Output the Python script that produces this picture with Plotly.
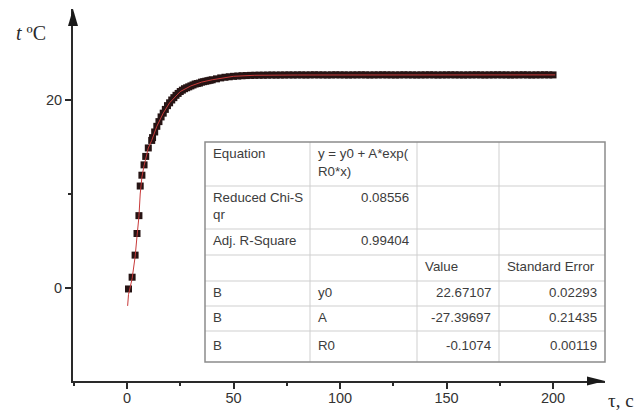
import plotly.graph_objects as go

# ---- data ----
time_s = [0.7, 2.4, 3.8, 4.7, 5.6, 6.2, 7.0, 8.0, 8.8, 10.0, 11.6,
          12, 13, 14, 15, 16, 17, 18, 19, 20, 21,
          22, 23, 24, 25, 26, 27, 28, 29, 30, 31,
          32, 33, 34, 35, 36, 37, 38, 39, 40,
          42, 44, 46, 48, 50, 52, 54, 56, 58, 60,
          62, 64, 66, 68, 70, 72, 74, 76, 78, 80,
          82, 84, 86, 88, 90, 92, 94, 96, 98, 100,
          102, 104, 106, 108, 110, 112, 114, 116, 118, 120,
          122, 124, 126, 128, 130, 132, 134, 136, 138, 140,
          142, 144, 146, 148, 150, 152, 154, 156, 158, 160,
          162, 164, 166, 168, 170, 172, 174, 176, 178, 180,
          182, 184, 186, 188, 190, 192, 194, 196, 198, 200]
temp_c = [-0.1, 1.15, 3.5, 5.8, 7.7, 10.85, 12.0, 13.1, 14.0, 14.9, 15.7,
          16.0, 16.6, 17.2, 17.7, 18.2, 18.6, 19.0, 19.4, 19.7, 20.0,
          20.25, 20.5, 20.7, 20.9, 21.05, 21.2, 21.3, 21.4, 21.5, 21.6,
          21.7, 21.75, 21.8, 21.9, 21.95, 22.0, 22.05, 22.1, 22.15,
          22.25, 22.35, 22.42, 22.47, 22.52, 22.55, 22.58, 22.6, 22.62, 22.63,
          22.64, 22.64, 22.65, 22.66, 22.65, 22.66, 22.66, 22.67, 22.66, 22.67,
          22.67, 22.66, 22.67, 22.68, 22.67, 22.67, 22.66, 22.67, 22.68, 22.67,
          22.67, 22.66, 22.67, 22.67, 22.68, 22.67, 22.66, 22.67, 22.67, 22.68,
          22.67, 22.67, 22.66, 22.67, 22.68, 22.67, 22.67, 22.66, 22.67, 22.67,
          22.68, 22.67, 22.66, 22.67, 22.67, 22.68, 22.67, 22.67, 22.66, 22.67,
          22.67, 22.68, 22.67, 22.66, 22.67, 22.67, 22.68, 22.67, 22.67, 22.66,
          22.67, 22.67, 22.68, 22.67, 22.66, 22.67, 22.67, 22.68, 22.67, 22.67]

fit_time = [0.3, 0.7, 2.4, 3.8, 4.7, 5.6, 6.2, 7.0, 8.0, 8.8, 10.0, 11.6, 14, 17, 20,
            25, 30, 35, 40, 50, 60, 80, 120, 160, 201]
fit_temp = [-1.9, -0.7, 1.0, 3.3, 5.5, 7.6, 10.0, 11.8, 13.0, 13.9, 14.9, 15.7, 17.2, 18.6, 19.7,
            20.9, 21.5, 21.9, 22.15, 22.52, 22.63, 22.66, 22.67, 22.67, 22.67]

x_tick_vals = [0, 50, 100, 150, 200]
y_tick_vals = [0, 20]

table_rows = [
    [["Equation"], ["y = y0 + A*exp(", "R0*x)"], [""], [""]],
    [["Reduced Chi-S", "qr"], ["0.08556"], [""], [""]],
    [["Adj. R-Square"], ["0.99404"], [""], [""]],
    [[""], [""], ["Value"], ["Standard Error"]],
    [["B"], ["y0"], ["22.67107"], ["0.02293"]],
    [["B"], ["A"], ["-27.39697"], ["0.21435"]],
    [["B"], ["R0"], ["-0.1074"], ["0.00119"]],
]

# ---- layout geometry (pixels) ----
W, H = 644, 412
L, R, T, B = 73, 605, 9, 381


def px_x(p):
    return (p - L) / (R - L)


def px_y(p):
    return (B - p) / (B - T)


fig = go.Figure()
fig.add_trace(go.Scatter(x=time_s, y=temp_c, mode="markers",
                         marker=dict(symbol="square", size=7, color="#261414"),
                         showlegend=False, hoverinfo="skip"))
fig.add_trace(go.Scatter(x=fit_time, y=fit_temp, mode="lines",
                         line=dict(color="#c83a3a", width=1),
                         showlegend=False, hoverinfo="skip"))

axis_color = "#2a2a2a"
tick_font = dict(family="Liberation Sans, Arial", size=14.5, color="#333333")

fig.update_xaxes(range=[-25.35, 224.4], showline=True, linecolor=axis_color, linewidth=2,
                 showgrid=False, zeroline=False, ticks="outside", ticklen=6, tickwidth=1.5,
                 tickcolor=axis_color, tickvals=x_tick_vals, tickfont=tick_font,
                 ticklabelstandoff=-3,
                 minor=dict(dtick=25, tick0=0, ticks="outside", ticklen=3,
                            tickwidth=1.5, tickcolor=axis_color))
fig.update_yaxes(range=[-9.89, 29.68], showline=True, linecolor=axis_color, linewidth=2,
                 showgrid=False, zeroline=False, ticks="outside", ticklen=6, tickwidth=1.5,
                 tickcolor=axis_color, tickvals=y_tick_vals, tickfont=tick_font,
                 ticklabelstandoff=0,
                 minor=dict(dtick=10, tick0=0, ticks="outside", ticklen=3,
                            tickwidth=1.5, tickcolor=axis_color))

shapes = []
annotations = []

# axis arrow heads
shapes.append(dict(type="path", xref="paper", yref="paper",
                   path=f"M {px_x(L - 5)} {px_y(26)} L {px_x(L)} {px_y(T)} L {px_x(L + 5)} {px_y(26)} Z",
                   fillcolor="#1a1a1a", line=dict(width=0)))
shapes.append(dict(type="path", xref="paper", yref="paper",
                   path=f"M {px_x(587)} {px_y(B - 4.5)} L {px_x(R)} {px_y(B)} L {px_x(587)} {px_y(B + 4.5)} Z",
                   fillcolor="#1a1a1a", line=dict(width=0)))

# table
col_px = [205, 310, 417, 499, 605]
row_px = [142, 186, 229, 255, 281, 306, 331, 362]
inner = "#cfcfcf"
shapes.append(dict(type="rect", xref="paper", yref="paper",
                   x0=px_x(col_px[0]), x1=px_x(col_px[-1]),
                   y0=px_y(row_px[0]), y1=px_y(row_px[-1]),
                   fillcolor="white", line=dict(width=0), layer="above"))
for c in col_px[1:-1]:
    shapes.append(dict(type="line", xref="paper", yref="paper",
                       x0=px_x(c), x1=px_x(c), y0=px_y(row_px[0]), y1=px_y(row_px[-1]),
                       line=dict(color=inner, width=1)))
for r in row_px[1:-1]:
    shapes.append(dict(type="line", xref="paper", yref="paper",
                       x0=px_x(col_px[0]), x1=px_x(col_px[-1]), y0=px_y(r), y1=px_y(r),
                       line=dict(color=inner, width=1)))
shapes.append(dict(type="rect", xref="paper", yref="paper",
                   x0=px_x(col_px[0]), x1=px_x(col_px[-1]),
                   y0=px_y(row_px[0]), y1=px_y(row_px[-1]),
                   line=dict(color="#8c8c8c", width=1.5)))

table_font = dict(family="Liberation Sans, Arial", size=13.3, color="#3c3c3c")


def is_num(s):
    try:
        float(s)
        return True
    except ValueError:
        return False


LINE_GAP = 17.5
for i, row in enumerate(table_rows):
    mid = (row_px[i] + row_px[i + 1]) / 2 - 1.5
    n = max(len(lines) for lines in row)
    for j, lines in enumerate(row):
        for k, txt in enumerate(lines):
            if not txt:
                continue
            if is_num(txt):
                xa, xp = "right", col_px[j + 1] - 6
            else:
                xa, xp = "left", col_px[j] + 5.5
            yc = mid + (k - (n - 1) / 2) * LINE_GAP
            annotations.append(dict(text=txt, xref="paper", yref="paper",
                                    x=px_x(xp), y=px_y(yc),
                                    xanchor=xa, yanchor="middle", showarrow=False,
                                    font=table_font))

# axis titles
annotations.append(dict(text="<i>t</i> ºC", xref="paper", yref="paper",
                        x=px_x(14), y=px_y(33), xanchor="left", yanchor="middle",
                        showarrow=False,
                        font=dict(family="Liberation Serif, Times New Roman", size=20, color="#2a2a2a")))
annotations.append(dict(text="τ, c", xref="paper", yref="paper",
                        x=px_x(606), y=px_y(400), xanchor="left", yanchor="middle",
                        showarrow=False,
                        font=dict(family="Liberation Serif, Times New Roman", size=19, color="#2a2a2a")))

fig.update_layout(width=W, height=H, autosize=False,
                  margin=dict(l=L, r=W - R, t=T, b=H - B, autoexpand=False),
                  paper_bgcolor="white", plot_bgcolor="white",
                  shapes=shapes, annotations=annotations, showlegend=False)

fig.write_html("out.html",
               config={"displayModeBar": False, "responsive": False},
               post_script="document.body.style.margin='0';document.body.style.overflow='hidden';")
